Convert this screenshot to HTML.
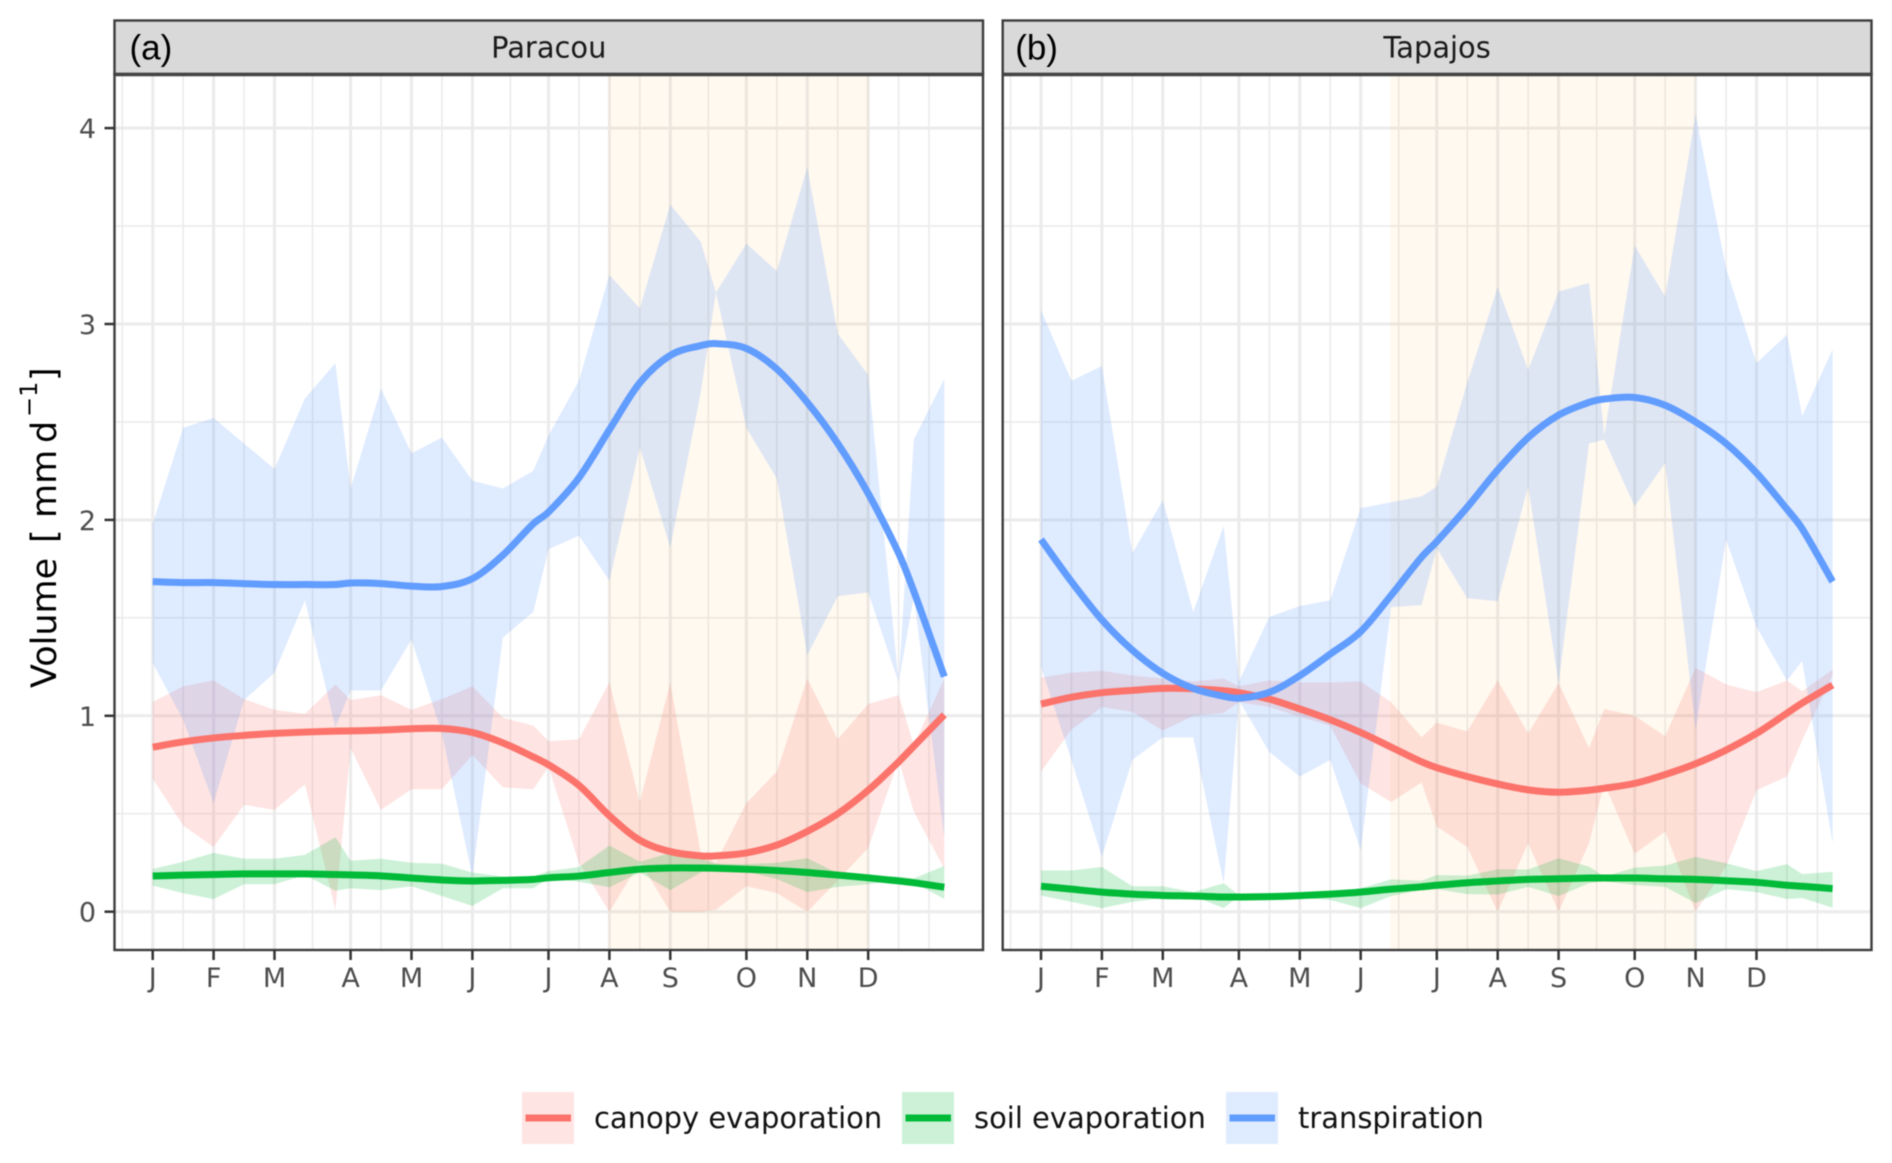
<!DOCTYPE html>
<html lang="en">
<head>
<meta charset="utf-8">
<title>Volume by month: Paracou and Tapajos</title>
<style>
html,body{margin:0;padding:0;background:#fff;}
svg{display:block;filter:blur(0.45px);}
text{font-family:"DejaVu Sans","Liberation Sans",sans-serif;}
</style>
</head>
<body>
<svg id="chart" xmlns="http://www.w3.org/2000/svg" width="1892" height="1163" viewBox="0 0 1892 1163">
  <rect x="0" y="0" width="1892" height="1163" fill="#ffffff"/>
  <g id="panel-a"></g>
  <g id="panel-b"></g>
  <text transform="rotate(-90)" font-size="35" fill="#000000"><tspan x="-688" y="56">Volume</tspan><tspan x="-543" y="56">[</tspan><tspan x="-518" y="56">mm</tspan><tspan x="-443" y="56">d</tspan><tspan x="-417" y="37" font-size="24">−1</tspan><tspan x="-381" y="56">]</tspan></text>
  <g>
    <g>
      <rect x="522" y="1092" width="52" height="52" fill="#F8766D" fill-opacity="0.2"/>
      <rect x="525.5" y="1114.5" width="45.5" height="7" fill="#FB736B"/>
      <text x="594" y="1128" font-size="28.95" fill="#111111">canopy evaporation</text>
    </g>
    <g>
      <rect x="902" y="1092" width="52" height="52" fill="#00BA38" fill-opacity="0.2"/>
      <rect x="905.5" y="1114.5" width="45.5" height="7" fill="#00BA38"/>
      <text x="974" y="1128" font-size="28.95" fill="#111111">soil evaporation</text>
    </g>
    <g>
      <rect x="1226" y="1092" width="52" height="52" fill="#619CFF" fill-opacity="0.2"/>
      <rect x="1229.5" y="1114.5" width="45.5" height="7" fill="#619CFF"/>
      <text x="1298" y="1128" font-size="28.95" fill="#111111">transpiration</text>
    </g>
  </g>
</svg>
<script>
// x positions of each sample along the time axis
const timeSteps = [0,2,4,6,8,10,12,13,15,17,19,21,23,25,26,28,30,32,34,36,37,39,41,43,45,47,49,50,52];
const monthBreaks = [0,4,8,13,17,21,26,30,34,39,43,47];
const monthLabels = ["J","F","M","A","M","J","J","A","S","O","N","D"];
const minorTimeBreaks = [-2,2,6,10.5,15,19,23.5,28,32,36.5,41,45,49,51];
const volumeBreaks = [0,1,2,3,4];
const volumeLabels = ["0","1","2","3","4"];
const minorVolumeBreaks = [0.5,1.5,2.5,3.5];

// Paracou
const paracouTranspirationUpper = [1.98,2.47,2.52,2.39,2.26,2.62,2.80,2.16,2.67,2.34,2.42,2.20,2.16,2.25,2.43,2.71,3.25,3.08,3.61,3.42,3.16,3.41,3.27,3.80,2.95,2.74,1.17,2.41,2.72];
const paracouTranspirationLower = [1.27,0.98,0.555,1.08,1.22,1.59,0.94,1.13,1.13,1.39,0.91,0.18,1.40,1.53,1.85,1.92,1.69,2.37,1.86,2.65,3.16,2.47,2.21,1.31,1.61,1.63,1.17,1.61,0.375];
const paracouTranspirationMean = [1.685,1.68,1.68,1.675,1.67,1.67,1.67,1.678,1.675,1.662,1.66,1.70,1.82,1.98,2.04,2.215,2.46,2.70,2.84,2.89,2.90,2.875,2.77,2.60,2.39,2.135,1.83,1.635,1.20];
const paracouCanopyUpper = [1.07,1.15,1.18,1.085,1.03,1.01,1.16,1.08,1.105,1.03,1.085,1.15,0.99,0.95,0.87,0.88,1.17,0.56,1.17,0.30,0.25,0.555,0.715,1.19,0.88,1.06,1.105,0.85,1.19];
const paracouCanopyLower = [0.68,0.44,0.33,0.545,0.52,0.65,0.01,0.835,0.52,0.625,0.625,0.80,0.635,0.625,0.74,0.25,0.0,0.255,0.0,0.0,0.01,0.13,0.095,0.0,0.16,0.325,0.775,0.51,0.22];
const paracouCanopyMean = [0.84,0.867,0.887,0.90,0.91,0.917,0.922,0.923,0.927,0.934,0.935,0.915,0.862,0.79,0.75,0.645,0.49,0.365,0.307,0.285,0.285,0.30,0.34,0.41,0.50,0.62,0.765,0.845,1.005];
const paracouSoilUpper = [0.218,0.255,0.30,0.27,0.27,0.29,0.38,0.26,0.27,0.25,0.245,0.20,0.18,0.18,0.207,0.228,0.337,0.255,0.30,0.273,0.245,0.243,0.25,0.273,0.197,0.18,0.18,0.17,0.233];
const paracouSoilLower = [0.133,0.095,0.065,0.14,0.14,0.187,0.107,0.12,0.11,0.13,0.08,0.03,0.12,0.12,0.17,0.153,0.125,0.20,0.11,0.20,0.235,0.204,0.167,0.10,0.127,0.14,0.16,0.15,0.065];
const paracouSoilMean = [0.182,0.187,0.19,0.193,0.193,0.193,0.19,0.188,0.183,0.172,0.162,0.157,0.16,0.165,0.173,0.182,0.20,0.217,0.223,0.223,0.222,0.217,0.21,0.20,0.187,0.173,0.157,0.148,0.125];

// Tapajos
const tapajosTranspirationUpper = [3.07,2.71,2.785,1.83,2.10,1.53,1.97,1.175,1.505,1.56,1.59,2.06,2.09,2.12,2.17,2.70,3.19,2.765,3.165,3.21,2.43,3.40,3.14,4.07,3.285,2.80,2.945,2.53,2.87];
const tapajosTranspirationLower = [1.25,0.775,0.28,0.775,0.89,0.89,0.145,1.08,0.815,0.69,0.775,0.315,1.555,1.565,1.855,1.60,1.585,2.17,1.167,2.39,2.41,2.07,2.29,0.93,1.90,1.455,1.18,1.28,0.35];
const tapajosTranspirationMean = [1.90,1.685,1.49,1.335,1.217,1.14,1.10,1.09,1.12,1.205,1.315,1.43,1.615,1.81,1.89,2.065,2.255,2.42,2.535,2.60,2.617,2.625,2.585,2.50,2.39,2.24,2.055,1.955,1.685];
const tapajosCanopyUpper = [1.195,1.22,1.23,1.205,1.19,1.175,1.19,1.15,1.18,1.17,1.17,1.175,1.07,0.89,0.965,0.92,1.18,0.91,1.167,0.835,1.035,1.0,0.895,1.245,1.16,1.12,1.18,1.125,1.235];
const tapajosCanopyLower = [0.715,0.93,1.045,1.02,0.925,1.0,1.015,1.07,1.045,0.995,0.95,0.655,0.56,0.66,0.435,0.33,0.0,0.35,0.0,0.35,0.655,0.295,0.41,0.0,0.23,0.62,0.69,0.875,1.21];
const tapajosCanopyMean = [1.06,1.095,1.118,1.13,1.14,1.138,1.128,1.118,1.085,1.035,0.98,0.915,0.84,0.765,0.735,0.69,0.652,0.622,0.61,0.62,0.63,0.655,0.70,0.755,0.825,0.91,1.013,1.065,1.157];
const tapajosSoilUpper = [0.21,0.21,0.228,0.13,0.13,0.10,0.145,0.085,0.085,0.088,0.10,0.12,0.165,0.158,0.187,0.184,0.217,0.215,0.273,0.23,0.18,0.225,0.235,0.28,0.247,0.207,0.243,0.192,0.204];
const tapajosSoilLower = [0.082,0.05,0.018,0.05,0.07,0.08,0.018,0.08,0.075,0.07,0.06,0.018,0.08,0.11,0.115,0.09,0.088,0.127,0.08,0.145,0.155,0.136,0.127,0.044,0.115,0.10,0.065,0.07,0.02];
const tapajosSoilMean = [0.13,0.115,0.10,0.09,0.083,0.08,0.075,0.075,0.077,0.082,0.09,0.10,0.115,0.127,0.135,0.148,0.157,0.165,0.168,0.172,0.172,0.172,0.168,0.165,0.158,0.15,0.135,0.13,0.118];

// dry-season extents in time-axis units
const paracouDrySeason = [29.95,47.05];
const tapajosDrySeason = [22.95,43];

const SVG_NS = "http://www.w3.org/2000/svg";

function make(parent, tag, attrs) {
  const el = document.createElementNS(SVG_NS, tag);
  for (const key in attrs) el.setAttribute(key, attrs[key]);
  parent.appendChild(el);
  return el;
}

function yScale(v) {
  return 911.7 - 195.9 * v;
}

function smoothPath(xs, ys) {
  const n = xs.length;
  const slope = [];
  for (let i = 0; i < n; i++) {
    const a = Math.max(0, i - 1);
    const b = Math.min(n - 1, i + 1);
    slope.push((ys[b] - ys[a]) / (xs[b] - xs[a]));
  }
  let d = "M" + xs[0].toFixed(2) + " " + ys[0].toFixed(2);
  for (let i = 0; i < n - 1; i++) {
    const h = (xs[i + 1] - xs[i]) / 3;
    d += " C" + (xs[i] + h).toFixed(2) + " " + (ys[i] + slope[i] * h).toFixed(2) +
         " " + (xs[i + 1] - h).toFixed(2) + " " + (ys[i + 1] - slope[i + 1] * h).toFixed(2) +
         " " + xs[i + 1].toFixed(2) + " " + ys[i + 1].toFixed(2);
  }
  return d;
}

function drawPanel(group, opts) {
  const left = opts.left;
  const right = opts.right;
  const top = 76;
  const bottom = 950;
  const xScale = function (u) { return opts.x0 + 15.223 * u; };

  const bg = make(group, "rect", {x: left, y: top, width: right - left, height: bottom - top, fill: "#ffffff"});
  
  

  const grid = make(group, "g", {});
  
  

  minorVolumeBreaks.forEach(function (v) {
    const line = make(grid, "line", {x1: left, x2: right, y1: yScale(v), y2: yScale(v), stroke: "#ebebeb", "stroke-width": 1.6});
    
    
  });
  minorTimeBreaks.forEach(function (u) {
    const line = make(grid, "line", {x1: xScale(u), x2: xScale(u), y1: top, y2: bottom, stroke: "#ebebeb", "stroke-width": 1.6});
    
    
  });
  volumeBreaks.forEach(function (v) {
    const line = make(grid, "line", {x1: left, x2: right, y1: yScale(v), y2: yScale(v), stroke: "#ebebeb", "stroke-width": 3});
    
    
  });
  monthBreaks.forEach(function (u) {
    const line = make(grid, "line", {x1: xScale(u), x2: xScale(u), y1: top, y2: bottom, stroke: "#ebebeb", "stroke-width": 3});
    
    
  });

  const dry = make(group, "rect", {
    x: xScale(opts.dry[0]), y: top,
    width: xScale(opts.dry[1]) - xScale(opts.dry[0]), height: bottom - top,
    fill: "#FFB030", "fill-opacity": 0.07
  });
  
  

  opts.series.forEach(function (s) {
    let pts = "";
    timeSteps.forEach(function (u, i) {
      pts += xScale(u).toFixed(2) + "," + yScale(s.upper[i]).toFixed(2) + " ";
    });
    for (let i = timeSteps.length - 1; i >= 0; i--) {
      pts += xScale(timeSteps[i]).toFixed(2) + "," + yScale(s.lower[i]).toFixed(2) + " ";
    }
    const ribbon = make(group, "polygon", {points: pts, fill: s.color, "fill-opacity": s.alpha});
    
    
  });

  opts.series.forEach(function (s) {
    const line = make(group, "path", {
      d: smoothPath(timeSteps.map(xScale), s.mean.map(yScale)),
      fill: "none", stroke: s.line, "stroke-width": 7, "stroke-linecap": "butt", "stroke-linejoin": "round"
    });
    
    
  });

  const border = make(group, "rect", {x: left, y: top - 2, width: right - left, height: bottom - top + 2, fill: "none", stroke: "#3d3d3d", "stroke-width": 2.4});
  
  

  const strip = make(group, "rect", {x: left, y: 20.5, width: right - left, height: 53.5, fill: "#D9D9D9", stroke: "#3d3d3d", "stroke-width": 2.4});
  
  

  const stripEdge = make(group, "line", {x1: left, x2: right, y1: 74.5, y2: 74.5, stroke: "#444444", "stroke-width": 3.4});
  
  

  const tag = make(group, "text", {x: left + opts.tagInset, y: 59.5, "font-size": 35, fill: "#000000", style: 'font-family:"Liberation Sans",sans-serif'});
  tag.textContent = opts.tag;
  
  

  const title = make(group, "text", {x: (left + right) / 2, y: 57.5, "font-size": 28.9, fill: "#1A1A1A", "text-anchor": "middle"});
  title.textContent = opts.title;
  
  

  monthBreaks.forEach(function (u, i) {
    const tick = make(group, "line", {x1: xScale(u), x2: xScale(u), y1: bottom, y2: bottom + 10, stroke: "#333333", "stroke-width": 2.5});
    
    
    const label = make(group, "text", {x: xScale(u), y: 987, "font-size": 27, fill: "#4D4D4D", "text-anchor": "middle"});
    label.textContent = monthLabels[i];
    
    
  });

  if (opts.yAxis) {
    volumeBreaks.forEach(function (v, i) {
      const tick = make(group, "line", {x1: left - 10, x2: left, y1: yScale(v), y2: yScale(v), stroke: "#333333", "stroke-width": 2.5});
      
      
      const label = make(group, "text", {x: 96, y: yScale(v) + 10, "font-size": 27, fill: "#4D4D4D", "text-anchor": "end"});
      label.textContent = volumeLabels[i];
      
      
    });
  }
}

drawPanel(document.getElementById("panel-a"), {
  left: 114.5, right: 983, x0: 152.7, tag: "(a)", tagInset: 15, title: "Paracou", yAxis: true,
  dry: paracouDrySeason,
  series: [
    {key: "canopy-evaporation", color: "#F8766D", line: "#FB736B", alpha: 0.2, upper: paracouCanopyUpper, lower: paracouCanopyLower, mean: paracouCanopyMean},
    {key: "soil-evaporation", color: "#00BA38", line: "#00BA38", alpha: 0.2, upper: paracouSoilUpper, lower: paracouSoilLower, mean: paracouSoilMean},
    {key: "transpiration", color: "#619CFF", line: "#619CFF", alpha: 0.2, upper: paracouTranspirationUpper, lower: paracouTranspirationLower, mean: paracouTranspirationMean}
  ]
});

drawPanel(document.getElementById("panel-b"), {
  left: 1002.7, right: 1871.5, x0: 1041, tag: "(b)", tagInset: 12.5, title: "Tapajos", yAxis: false,
  dry: tapajosDrySeason,
  series: [
    {key: "canopy-evaporation", color: "#F8766D", line: "#FB736B", alpha: 0.2, upper: tapajosCanopyUpper, lower: tapajosCanopyLower, mean: tapajosCanopyMean},
    {key: "soil-evaporation", color: "#00BA38", line: "#00BA38", alpha: 0.2, upper: tapajosSoilUpper, lower: tapajosSoilLower, mean: tapajosSoilMean},
    {key: "transpiration", color: "#619CFF", line: "#619CFF", alpha: 0.2, upper: tapajosTranspirationUpper, lower: tapajosTranspirationLower, mean: tapajosTranspirationMean}
  ]
});
</script>
</body>
</html>
